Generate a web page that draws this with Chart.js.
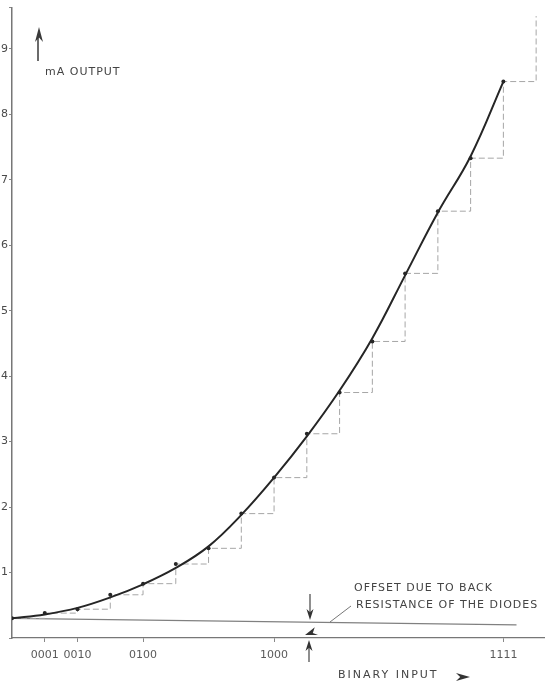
<!DOCTYPE html>
<html>
<head>
<meta charset="utf-8">
<script src="https://cdn.jsdelivr.net/npm/chart.js@4.4.1/dist/chart.umd.min.js"></script>
<style>
  html, body { margin: 0; padding: 0; background: #fff; }
  #wrap { position: relative; width: 548px; height: 684px; }
</style>
</head>
<body>
<div id="wrap"><canvas id="myChart" width="548" height="684"></canvas></div>
<script>
// binary input steps 0000..1111
var inputSteps = [0, 1, 2, 3, 4, 5, 6, 7, 8, 9, 10, 11, 12, 13, 14, 15];
// measured points (dots) in mA
var measuredMa = [0.30, 0.38, 0.44, 0.66, 0.83, 1.13, 1.37, 1.90, 2.45, 3.12, 3.75, 4.53, 5.57, 6.52, 7.33, 8.50];
// smooth fitted curve read at each step, mA
var curveMa = [0.30, 0.36, 0.46, 0.62, 0.82, 1.07, 1.40, 1.88, 2.45, 3.08, 3.78, 4.58, 5.54, 6.50, 7.36, 8.50];

// ideal next step drawn past 1111
var extraStepX = 16;
var extraStepMa = 9.5;

// offset line (back resistance of the diodes)
var offsetX = [0, 15.4];
var offsetMa = [0.30, 0.20];

var xTickValues = [1, 2, 4, 8, 15];
var xTickLabels = ['0001', '0010', '0100', '1000', '1111'];
var yTickLabels = ['', '1', '2', '3', '4', '5', '6', '7', '8', '9'];

var dotPoints = inputSteps.map(function(x, i) { return { x: x, y: measuredMa[i] }; });
var curvePoints = inputSteps.map(function(x, i) { return { x: x, y: curveMa[i] }; });
var stepPoints = dotPoints.concat([{ x: extraStepX, y: extraStepMa }]);
var offsetPoints = offsetX.map(function(x, i) { return { x: x, y: offsetMa[i] }; });

function arrowHead(ctx, x, y, dir, len, half) {
    ctx.beginPath();
    if (dir === 'up') {
        ctx.moveTo(x, y); ctx.lineTo(x - half, y + len); ctx.lineTo(x, y + len * 0.7); ctx.lineTo(x + half, y + len);
    } else if (dir === 'down') {
        ctx.moveTo(x, y); ctx.lineTo(x - half, y - len); ctx.lineTo(x, y - len * 0.7); ctx.lineTo(x + half, y - len);
    } else if (dir === 'right') {
        ctx.moveTo(x, y); ctx.lineTo(x - len, y - half); ctx.lineTo(x - len * 0.7, y); ctx.lineTo(x - len, y + half);
    } else {
        // wedge pointing down-left
        ctx.moveTo(x, y); ctx.lineTo(x + len * 0.75, y - len * 0.6); ctx.lineTo(x + len * 0.6, y - len * 0.15); ctx.lineTo(x + len, y);
    }
    ctx.closePath();
    ctx.fill();
}

var notes = {
    id: 'notes',
    afterDraw: function(chart) {
        var ctx = chart.ctx;
        ctx.save();
        ctx.fillStyle = '#3a3a3a';
        ctx.strokeStyle = '#3a3a3a';
        ctx.textBaseline = 'middle';
        ctx.textAlign = 'left';

        // y axis title with arrow
        ctx.lineWidth = 1.5;
        ctx.beginPath(); ctx.moveTo(38, 61); ctx.lineTo(38, 36); ctx.stroke();
        arrowHead(ctx, 39, 27, 'up', 15, 4);
        ctx.fillStyle = '#444';
        ctx.font = '11px "DejaVu Sans", sans-serif';
        ctx.letterSpacing = '1px';
        ctx.fillText('mA OUTPUT', 45, 72);

        // offset annotation
        ctx.fillText('OFFSET DUE TO BACK', 354, 588);
        ctx.fillText('RESISTANCE OF THE DIODES', 356, 605);
        ctx.strokeStyle = '#777';
        ctx.lineWidth = 1;
        ctx.beginPath(); ctx.moveTo(330, 622); ctx.lineTo(351, 606); ctx.stroke();

        ctx.fillStyle = '#333';
        ctx.strokeStyle = '#444';
        ctx.lineWidth = 1.2;
        ctx.beginPath(); ctx.moveTo(310, 594); ctx.lineTo(310, 612); ctx.stroke();
        arrowHead(ctx, 310, 620, 'down', 11, 3.5);
        ctx.beginPath(); ctx.moveTo(309, 662); ctx.lineTo(309, 646); ctx.stroke();
        arrowHead(ctx, 309, 640, 'up', 11, 3.5);
        arrowHead(ctx, 305, 635, 'downleft', 13, 4);

        // x axis title with arrow
        ctx.fillStyle = '#444';
        ctx.font = '11px "DejaVu Sans", sans-serif';
        ctx.letterSpacing = '2px';
        ctx.fillText('BINARY INPUT', 338, 675);
        ctx.fillStyle = '#333';
        arrowHead(ctx, 470, 677, 'right', 14, 4);
        ctx.restore();
    }
};

var ctx = document.getElementById('myChart').getContext('2d');
var myChart = new Chart(ctx, {
    type: 'line',
    data: {
        datasets: [{
            label: 'curve',
            data: curvePoints,
            borderColor: '#262626',
            borderWidth: 2,
            tension: 0.4,
            pointRadius: 0,
            order: 1
        }, {
            label: 'measured',
            data: dotPoints,
            showLine: false,
            backgroundColor: '#262626',
            pointRadius: 2,
            pointBorderWidth: 0,
            order: 0
        }, {
            label: 'steps',
            data: stepPoints,
            borderColor: '#a6a6a6',
            borderWidth: 1,
            borderDash: [6, 3],
            stepped: 'before',
            pointRadius: 0,
            order: 2
        }, {
            label: 'offset',
            data: offsetPoints,
            borderColor: '#808080',
            borderWidth: 1.2,
            pointRadius: 0,
            order: 3
        }]
    },
    options: {
        responsive: false,
        animation: false,
        layout: { padding: { top: 5, left: 0, right: 0, bottom: 0 } },
        plugins: {
            legend: { display: false },
            tooltip: { enabled: false }
        },
        scales: {
            x: {
                type: 'linear',
                min: 0,
                max: 16.24,
                afterBuildTicks: function(scale) {
                    scale.ticks = xTickValues.map(function(v) { return { value: v }; });
                },
                afterFit: function(scale) { scale.height = 46; },
                ticks: {
                    autoSkip: false,
                    maxRotation: 0,
                    padding: 7,
                    color: '#5a5a5a',
                    font: { family: 'DejaVu Sans', size: 11 },
                    callback: function(value) {
                        var i = xTickValues.indexOf(value);
                        return i >= 0 ? xTickLabels[i] : '';
                    }
                },
                grid: { drawOnChartArea: false, tickLength: 4, color: '#888' },
                border: { color: '#777', width: 1.3 }
            },
            y: {
                min: 0,
                max: 9.63,
                afterFit: function(scale) { scale.width = 12; },
                ticks: {
                    stepSize: 1,
                    padding: 1,
                    color: '#4a4a4a',
                    font: { family: 'DejaVu Sans', size: 11 },
                    callback: function(value) { return yTickLabels[value] || ''; }
                },
                grid: { drawOnChartArea: false, tickLength: 3, color: '#888' },
                border: { color: '#777', width: 1.5 }
            }
        }
    },
    plugins: [notes]
});
</script>
</body>
</html>
